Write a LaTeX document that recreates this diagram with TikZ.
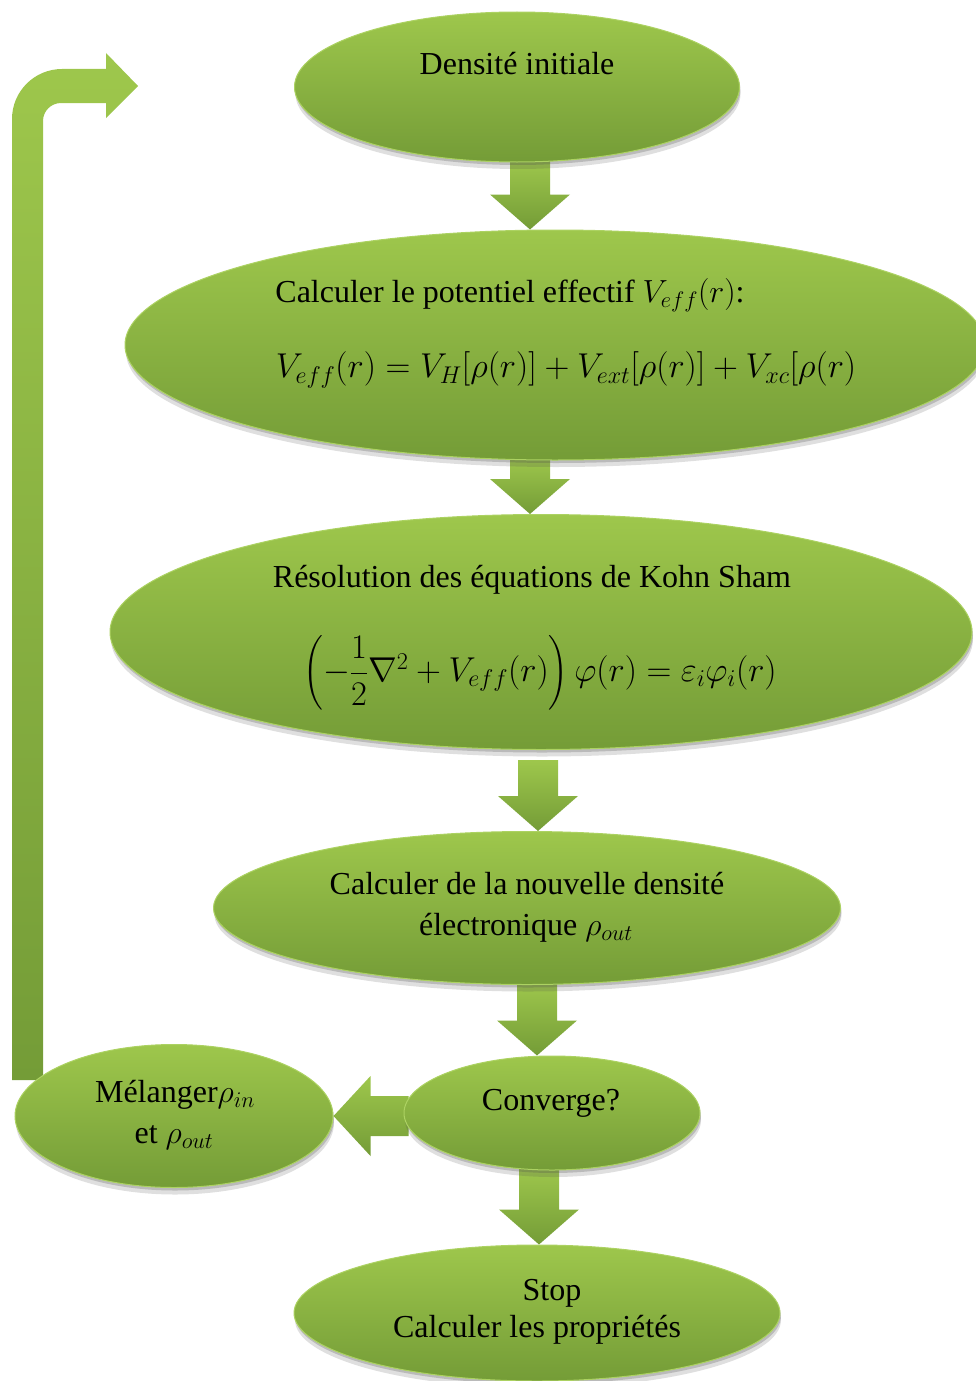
\documentclass[tikz,border=0pt]{standalone}
\usepackage{fix-cm}
\usepackage{amsmath}
\usepackage{fontspec}
\setmainfont{Liberation Serif}
\usetikzlibrary{shapes.geometric,shadows,calc}
\definecolor{gtop}{RGB}{158,199,76}
\definecolor{gbot}{RGB}{116,156,55}
\definecolor{grim}{RGB}{172,210,98}
\pgfdeclarelayer{background}
\pgfsetlayers{background,main}
\tikzset{
 bubble/.style={ellipse, inner sep=0pt, top color=gtop, bottom color=gbot, draw=grim, line width=1pt,
   drop shadow={shadow xshift=1pt, shadow yshift=-3pt, opacity=0.25, fill=black!70},
   drop shadow={shadow xshift=1pt, shadow yshift=-7pt, opacity=0.18, fill=black!70}},
 lbl/.style={font=\fontsize{32}{38}\selectfont, align=center, inner sep=0pt},
 mathlbl/.style={font=\fontsize{34.5}{40}\selectfont, align=center, inner sep=0pt},
 blockfill/.style={top color=gtop, bottom color=gbot},
}
% #1 from node, #2 to node, #3 x position, #4 gap below the source
\newcommand\downblock[4]{%
 \shade[blockfill] let \p1=(#1.south), \p2=(#2.north) in
  (#3-20,\y1-#4) -- (#3+20,\y1-#4) -- (#3+20,\y2+35) -- (#3+40,\y2+35) -- (#3,\y2)
  -- (#3-40,\y2+35) -- (#3-20,\y2+35) -- cycle;}
\begin{document}
\begin{tikzpicture}[x=1pt,y=1pt]
\useasboundingbox (0,0) rectangle (976,-1381);
% ellipses
\node[bubble, minimum width=445pt, minimum height=150pt] (init) at (517,-87) {};
\node[bubble, minimum width=860pt, minimum height=230pt] (pot) at (555,-345) {};
\node[bubble, minimum width=862pt, minimum height=235pt] (ks) at (541,-632) {};
\node[bubble, minimum width=627pt, minimum height=153pt] (dens) at (527,-908) {};
\node[bubble, minimum width=296pt, minimum height=114pt] (conv) at (552,-1113) {};
\node[bubble, minimum width=318pt, minimum height=143pt] (mel) at (174,-1116) {};
\node[bubble, minimum width=486pt, minimum height=136pt] (stop) at (537,-1313) {};
% texts
\node[lbl] (t1) at (517,-64) {Densité initiale};
\node[lbl] (t2a) at (510,-295) {Calculer le potentiel effectif $V_{eff}(r)$:};
\node[mathlbl] (t2b) at (566,-370) {$V_{eff}(r)=V_{H}[\rho(r)]+V_{ext}[\rho(r)]+V_{xc}[\rho(r)$};
\node[lbl] (t3a) at (532,-580) {Résolution des équations de Kohn Sham};
\node[mathlbl] (t3b) at (540,-673) {$\left(-\dfrac{1}{2}\nabla^{2}+V_{eff}(r)\right)\varphi(r)=\varepsilon_{i}\varphi_{i}(r)$};
\node[lbl] (t4a) at (527,-884) {Calculer de la nouvelle densité};
\node[lbl] (t4b) at (526,-928) {électronique $\rho_{out}$};
\node[lbl] (t5) at (551,-1103) {Converge?};
\node[lbl] (t6a) at (175,-1095) {Mélanger$\rho_{in}$};
\node[lbl] (t6b) at (174,-1138) {et $\rho_{out}$};
\node[lbl] (t7a) at (552,-1293) {Stop};
\node[lbl] (t7b) at (537,-1330) {Calculer les propriétés};
% loop coordinates
\coordinate (loopfoot) at (27.5,-1080);
\coordinate (looptip) at (138,-86);
\begin{pgfonlayer}{background}
\downblock{init}{pot}{530}{-3}
\downblock{pot}{ks}{530}{-3}
\downblock{ks}{dens}{538}{10}
\downblock{dens}{conv}{537}{-3}
\downblock{conv}{stop}{539}{-3}
% left arrow
\shade[blockfill] let \p1=(conv.west), \p2=(mel.east) in
  (\x1+5,\y2+20) -- (\x2+37,\y2+20) -- (\x2+37,\y2+40) -- (\x2,\y2)
  -- (\x2+37,\y2-40) -- (\x2+37,\y2-20) -- (\x1+5,\y2-20) -- cycle;
% loop arrow
\shade[blockfill] let \p1=(loopfoot), \p2=(looptip) in
  (\x1-15.5,\y1) -- (\x1-15.5,\y2-33) arc[start angle=180,end angle=90,radius=50pt]
  -- (\x2-32,\y2+17) -- (\x2-32,\y2+33) -- (\x2,\y2) -- (\x2-32,\y2-32) -- (\x2-32,\y2-17)
  -- (\x1+33.5,\y2-17) arc[start angle=90,end angle=180,radius=18pt]
  -- (\x1+15.5,\y1) -- cycle;
\end{pgfonlayer}
\end{tikzpicture}
\end{document}
